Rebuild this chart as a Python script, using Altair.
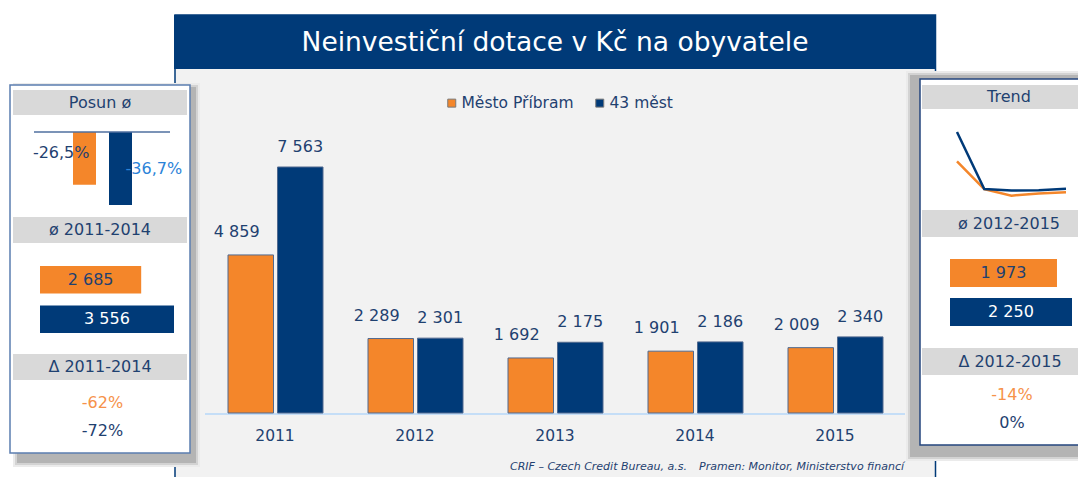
import altair as alt
import pandas as pd

# ---------------- data ----------------
years = ["2011", "2012", "2013", "2014", "2015"]
series = ["Město Příbram", "43 měst"]
pribram = [4859, 2289, 1692, 1901, 2009]
mest43 = [7563, 2301, 2175, 2186, 2340]

posun_pct = [-26.5, -36.7]
avg_11_14 = [2685, 3556]
delta_11_14 = [-62, -72]
avg_12_15 = [1973, 2250]
delta_12_15 = [-14, 0]

title_text = "Neinvestiční dotace v Kč na obyvatele"
left_headers = ["Posun ø", "ø 2011-2014", "Δ 2011-2014"]
right_headers = ["Trend", "ø 2012-2015", "Δ 2012-2015"]
footer_left = "CRIF – Czech Credit Bureau, a.s."
footer_right = "Pramen: Monitor, Ministerstvo financí"

# ---------------- styles ----------------
FONT = "DejaVu Sans"
NAVY = "#003a78"
ORANGE = "#f4862a"
TXT = "#1f4170"
LORANGE = "#f6924a"
LBLUE = "#2b83d8"
HEAD = "#d9d9d9"
BG = "#f2f2f2"
OFF = 8


def px(v):
    return v - OFF


one = pd.DataFrame({"k": [0]})


def rect(x0, y0, x1, y1, fill, stroke=None, sw=0):
    kw = {"fill": fill}
    if stroke:
        kw["stroke"] = stroke
        kw["strokeWidth"] = sw
    else:
        kw["strokeWidth"] = 0
    return alt.Chart(one).mark_rect(**kw).encode(
        x=alt.value(px(x0)), x2=alt.value(px(x1)),
        y=alt.value(px(y0)), y2=alt.value(px(y1)))


def txt(x, y, s, size=16, color=TXT, align="center", **kw):
    return alt.Chart(one).mark_text(
        text=s, font=FONT, fontSize=size, color=color, align=align,
        baseline="middle", **kw).encode(x=alt.value(px(x)), y=alt.value(px(y)))


def shadow(x0, y0, x1, y1):
    return [rect(x0, y0, x1, y1, "#ebebeb"),
            rect(x0 + 2, y0 + 2, x1 - 2, y1 - 2, "#d3d3d3"),
            rect(x0 + 4, y0 + 4, x1 - 4, y1 - 4, "#b4b4b4")]


def header(x0, x1, y0, y1, tx, s):
    return [rect(x0, y0, x1, y1, HEAD), txt(tx, (y0 + y1) / 2, s)]


cs = alt.Scale(domain=series, range=[ORANGE, NAVY])
num_expr = "replace(format(datum.value, ','), ',', ' ')"
pct_expr = "replace(toString(datum.value), '.', ',') + '%'"

# ---------------- main bar chart ----------------
main_df = pd.DataFrame({
    "year": years * 2,
    "series": [series[0]] * len(years) + [series[1]] * len(years),
    "value": pribram + mest43,
})
STEP, BW = 140.0, 45.5
PI = 1 - BW / STEP
EXT = STEP * (len(years) - PI)
bar_x0 = {series[0]: 228.0, series[1]: 228.0 + BW + 4}
ys = alt.Scale(domain=[0, 7563], range=[px(413), px(167)], nice=False, zero=True)
xyear = alt.Scale(type="band", domain=years, range=[px(205), px(905)],
                  paddingInner=0, paddingOuter=0)


def xs_for(s):
    return alt.Scale(type="band", domain=years,
                     range=[px(bar_x0[s]), px(bar_x0[s] + EXT)],
                     paddingInner=PI, paddingOuter=0)


baseline = alt.Chart(one).mark_rule(color="#c5def7", strokeWidth=2).encode(
    x=alt.value(px(205)), x2=alt.value(px(905)), y=alt.value(px(414)))


def series_bars(s, legend):
    return alt.Chart(main_df).transform_filter(alt.datum.series == s).mark_bar(
        stroke="#51698f", strokeWidth=1).encode(
        x=alt.X("year:N", scale=xs_for(s), axis=None),
        y=alt.Y("value:Q", scale=ys, axis=None),
        color=alt.Color("series:N", scale=cs, legend=legend))


legend = alt.Legend(
    title=None, orient="none", legendX=px(444), legendY=px(95),
    direction="horizontal", symbolType="square", symbolSize=64,
    symbolStrokeColor="#7a7a7a", symbolStrokeWidth=1,
    labelFont=FONT, labelFontSize=15.5, labelColor=TXT,
    labelOffset=2, columnPadding=18, padding=0)


def bar_labels(s, dx, dy):
    return alt.Chart(main_df).transform_filter(alt.datum.series == s).transform_calculate(
        lbl=num_expr).mark_text(font=FONT, fontSize=16, color=TXT, dx=dx, dy=dy,
                                baseline="middle").encode(
        x=alt.X("year:N", scale=xs_for(s), axis=None),
        y=alt.Y("value:Q", scale=ys, axis=None),
        text="lbl:N")


year_lbls = alt.Chart(pd.DataFrame({"year": years})).mark_text(
    font=FONT, fontSize=15.5, color=TXT, baseline="middle").encode(
    x=alt.X("year:N", scale=xyear, axis=None), y=alt.value(px(436)), text="year:N")

# ---------------- left panel: Posun ----------------
posun_df = pd.DataFrame({"series": series, "value": posun_pct})
pxs = alt.Scale(type="band", domain=series, range=[px(73), px(132)],
                paddingInner=13 / 36, paddingOuter=0)
pys = alt.Scale(domain=[-40, 0], range=[px(132 + 40 * 1.99), px(132)], nice=False)

posun_bars = alt.Chart(posun_df).mark_bar().encode(
    x=alt.X("series:N", scale=pxs, axis=None),
    y=alt.Y("value:Q", scale=pys, axis=None),
    color=alt.Color("series:N", scale=cs, legend=None))
posun_zero = alt.Chart(one).mark_rule(color="#4f6f9f", strokeWidth=1.5).encode(
    x=alt.value(px(34)), x2=alt.value(px(170)), y=alt.value(px(132)))


def posun_label(s, align, color, dy):
    return alt.Chart(posun_df).transform_filter(alt.datum.series == s).transform_calculate(
        lbl=pct_expr, mid="datum.value / 2").mark_text(
        font=FONT, fontSize=16, color=color, align=align, dx=5, dy=dy,
        baseline="middle").encode(
        x=alt.X("series:N", scale=pxs, axis=None),
        y=alt.Y("mid:Q", scale=pys, axis=None),
        text="lbl:N")


# ---------------- average boxes ----------------
def avg_boxes(values, x0, x1, y0, y1, pad):
    df = pd.DataFrame({"series": series, "value": values})
    sx = alt.Scale(domain=[0, max(values)], range=[px(x0), px(x1)], nice=False)
    sy = alt.Scale(type="band", domain=series, range=[px(y0), px(y1)],
                   paddingInner=pad, paddingOuter=0)
    b = alt.Chart(df).mark_bar().encode(
        x=alt.X("value:Q", scale=sx, axis=None),
        y=alt.Y("series:N", scale=sy, axis=None),
        color=alt.Color("series:N", scale=cs, legend=None))
    t = alt.Chart(df).transform_calculate(lbl=num_expr, half="datum.value / 2").mark_text(
        font=FONT, fontSize=16, baseline="middle").encode(
        x=alt.X("half:Q", scale=sx, axis=None),
        y=alt.Y("series:N", scale=sy, axis=None),
        text="lbl:N",
        color=alt.condition(alt.datum.series == series[0], alt.value(TXT), alt.value("white")))
    return [b, t]


def delta_texts(values, x, y0, y1):
    df = pd.DataFrame({"series": series, "value": values})
    sy = alt.Scale(type="point", domain=series, range=[px(y0), px(y1)], padding=0)
    return alt.Chart(df).transform_calculate(lbl=pct_expr).mark_text(
        font=FONT, fontSize=16, baseline="middle").encode(
        x=alt.value(px(x)),
        y=alt.Y("series:N", scale=sy, axis=None),
        text="lbl:N",
        color=alt.condition(alt.datum.series == series[0], alt.value(LORANGE), alt.value(TXT)))


# ---------------- right panel: trend ----------------
txs = alt.Scale(type="point", domain=years, range=[px(957), px(1066)], padding=0)
tys = alt.Scale(domain=[0, 7563], range=[px(214), px(132)], nice=False)


def trend_line(s, color):
    return alt.Chart(main_df).transform_filter(alt.datum.series == s).mark_line(
        color=color, strokeWidth=2.5).encode(
        x=alt.X("year:O", scale=txs, axis=None),
        y=alt.Y("value:Q", scale=tys, axis=None))


# ---------------- assemble ----------------
layers = []
layers.append(rect(175, 15, 935.5, 500, BG, NAVY, 1.5))
layers.append(rect(174, 15, 936, 69, NAVY))
layers.append(txt(555, 43, title_text, size=26.5, color="white"))
layers.append(txt(510, 467, footer_left, size=11, align="left", fontStyle="italic"))
layers.append(txt(904, 467, footer_right, size=11, align="right", fontStyle="italic"))
layers.append(baseline)
layers.append(series_bars(series[0], legend))
layers.append(series_bars(series[1], None))
layers.append(bar_labels(series[0], -14, -23))
layers.append(bar_labels(series[1], 0, -20))
layers.append(year_lbls)

# left panel
layers += shadow(13, 83, 200, 467)
layers.append(rect(10, 85, 190, 453, "white", "#5b7db0", 1.5))
layers += header(13, 187, 90, 115, 100, left_headers[0])
layers += header(13, 187, 217, 243, 100, left_headers[1])
layers += header(13, 187, 354, 380, 100, left_headers[2])
layers += [posun_bars, posun_zero,
           posun_label(series[0], "right", TXT, -5),
           posun_label(series[1], "left", LBLUE, 0)]
layers += avg_boxes(avg_11_14, 40, 174, 266, 333, 12 / 39.5)
layers.append(delta_texts(delta_11_14, 102.5, 403, 431))

# right panel
layers += shadow(906, 71, 1096, 461)
layers.append(rect(920, 79, 1096, 445, "white", "#24467e", 1.5))
layers += header(922, 1096, 85, 109, 1009, right_headers[0])
layers += header(922, 1096, 210, 237, 1009, right_headers[1])
layers += header(922, 1096, 348, 375, 1010, right_headers[2])
layers += [trend_line(series[0], ORANGE), trend_line(series[1], NAVY)]
layers += avg_boxes(avg_12_15, 950, 1072, 259, 326, 11 / 39)
layers.append(delta_texts(delta_12_15, 1012, 395, 423))

chart = alt.layer(*layers).resolve_scale(
    x="independent", y="independent", color="independent"
).properties(
    width=1070, height=469, padding=0,
    autosize=alt.AutoSizeParams(type="none"), background="white",
).configure_view(strokeWidth=0)

chart.save("out.html", embed_options={"renderer": "svg", "actions": False})
